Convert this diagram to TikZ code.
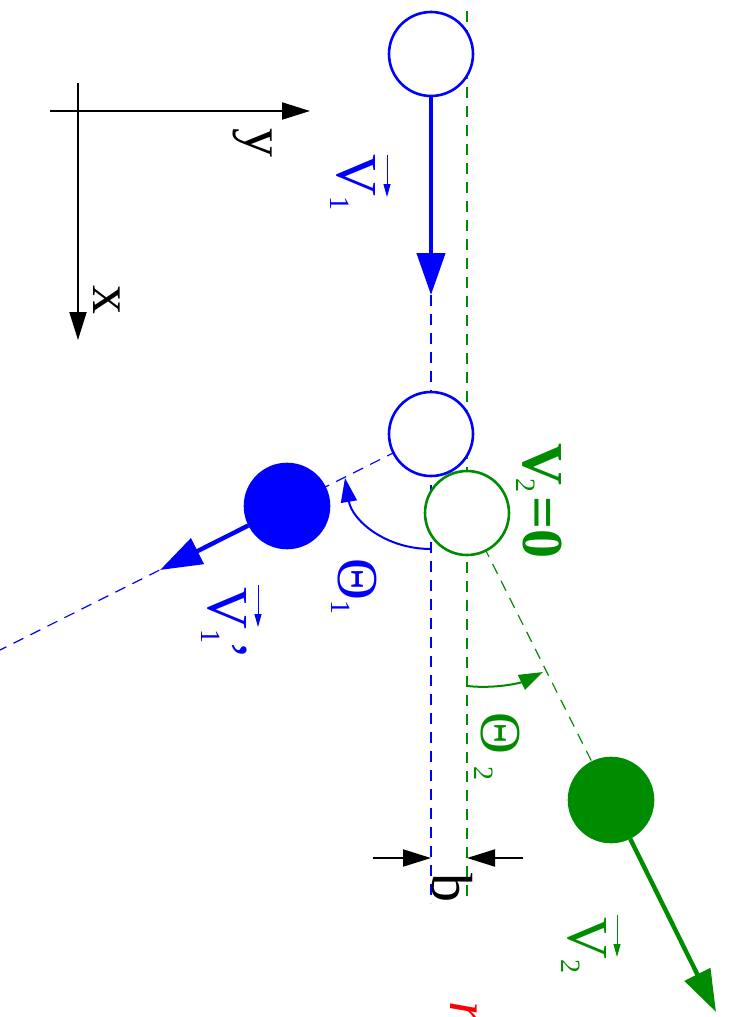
\documentclass[tikz,border=0pt]{standalone}
\usepackage{fontspec}
\setmainfont{Liberation Serif}
\usetikzlibrary{arrows.meta}
\definecolor{figgreen}{RGB}{0,140,0}
\newcommand{\sublbl}[1]{\raisebox{-3.5pt}{\fontsize{14}{16}\selectfont\mdseries #1}}

\begin{document}
\begin{tikzpicture}[x=0.5pt,y=-0.5pt,
  ball/.style={circle,line width=1.3pt,minimum size=42pt,inner sep=0pt},
  track/.style={line width=0.6pt,dash pattern=on 5.5pt off 4pt},
  lbl/.style={rotate=-90,inner sep=0pt,anchor=base west,font=\fontsize{29}{34}\selectfont},
  velo/.style={line width=2.2pt,-{Triangle[length=21pt,width=14pt]}},
  blackarrow/.style={line width=1pt,-{Triangle[length=14pt,width=8.5pt]}},
  arcarrow/.style={line width=1pt,-{Triangle[length=12pt,width=8pt]}},
  vecarrow/.style={line width=0.5pt,-{Triangle[length=6.5pt,width=3.5pt]}}]
\useasboundingbox (0,0) rectangle (731,1017);

\coordinate (c1start) at (431,54);
\coordinate (c1hit) at (431,434);
\coordinate (c2hit) at (467,513);
\coordinate (c1end) at (287,506);
\coordinate (c2end) at (611,800);

\coordinate (v1tip) at (431,295);
\coordinate (v1ptip) at (160,570);
\coordinate (v2tip) at (716,1012);
\coordinate (bluebottom) at (431,903);
\coordinate (greentop) at (467,11);
\coordinate (greenbottom) at (467,903);
\coordinate (blueout) at (0,650);

\draw[track,blue] (v1tip) -- (bluebottom);
\draw[track,figgreen] (greentop) -- (greenbottom);
\draw[track,blue] (c1hit) -- (blueout);
\draw[track,figgreen] (c2hit) -- (c2end);

\coordinate (th1start) at (431,549);
\coordinate (th1end) at (345,478);
\coordinate (th2start) at (467,686);
\coordinate (th2end) at (543,672);
\draw[arcarrow,blue] (th1start) .. controls (385,549) and (352,520) .. (th1end);
\draw[arcarrow,figgreen] (th2start) .. controls (495,689) and (520,683) .. (th2end);

\node[ball,draw=blue,fill=white] (b1start) at (c1start) {};
\node[ball,draw=blue,fill=white] (b1hit) at (c1hit) {};
\node[ball,draw=figgreen,fill=white] (b2hit) at (c2hit) {};
\node[ball,draw=blue,fill=blue] (b1end) at (c1end) {};
\node[ball,draw=figgreen,fill=figgreen] (b2end) at (c2end) {};

\draw[velo,blue] (b1start) -- (v1tip);
\draw[velo,blue] (b1end) -- (v1ptip);
\draw[velo,figgreen] (b2end) -- (v2tip);

\coordinate (xstart) at (78,83);
\coordinate (xend) at (78,340);
\coordinate (ystart) at (50,111);
\coordinate (yend) at (310,111);
\draw[blackarrow] (xstart) -- (xend);
\draw[blackarrow] (ystart) -- (yend);

\coordinate (bleft) at (373,858);
\coordinate (bright) at (523,858);
\coordinate (bluetrack) at (431,858);
\coordinate (greentrack) at (467,858);
\draw[blackarrow] (bleft) -- (bluetrack);
\draw[blackarrow] (bright) -- (greentrack);

\node[lbl] (ylbl) at (245,128) {y};
\node[lbl] (xlbl) at (93,285) {x};
\node[lbl,blue] (vone) at (337,154) {V\sublbl{1}};
\node[lbl,blue] (voneprime) at (208,587) {V\sublbl{1}\kern-1.5pt’};
\node[lbl,figgreen] (vtwo) at (568,917) {V\sublbl{2}};
\node[lbl,figgreen] (vtwozero) at (523,443) {\bfseries V\kern-3.5pt\sublbl{2}\kern2pt=0};
\node[lbl,blue] (thone) at (338,558) {Θ\sublbl{1}};
\node[lbl,figgreen] (thtwo) at (481,712) {Θ\hspace{6pt}\sublbl{2}};
\node[lbl] (blbl) at (432,873) {b};
\node[lbl,red,font=\fontsize{29}{34}\selectfont\itshape] (rlbl) at (450,1001) {r};

\draw[vecarrow,blue] ([shift={(50,1)}]vone.base west) -- ++(0,42);
\draw[vecarrow,blue] ([shift={(50,-2)}]voneprime.base west) -- ++(0,42);
\draw[vecarrow,figgreen] ([shift={(49,-2)}]vtwo.base west) -- ++(0,42);
\end{tikzpicture}
\end{document}
